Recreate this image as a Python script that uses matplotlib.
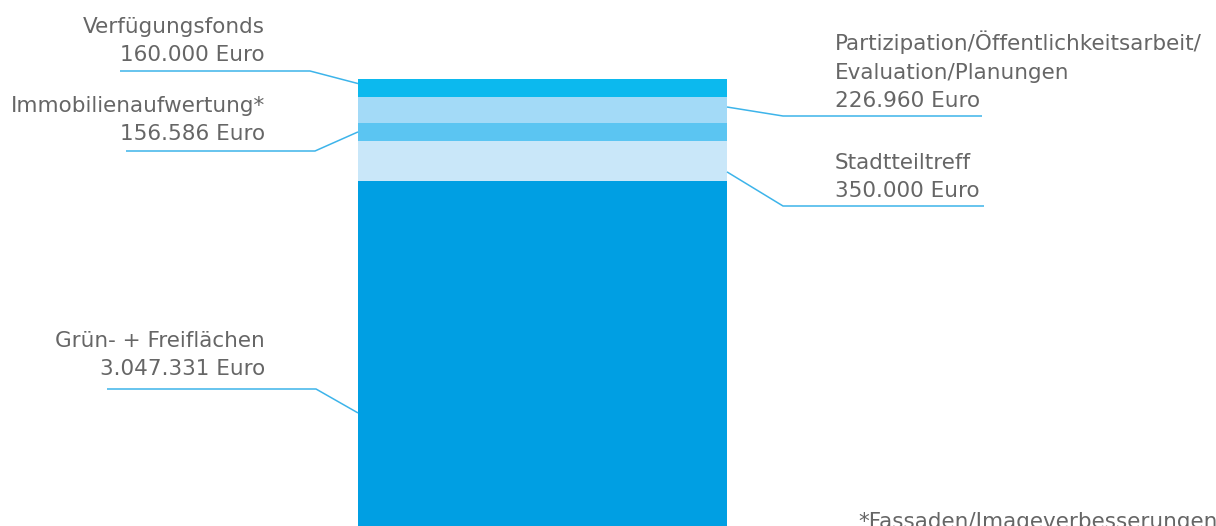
import matplotlib
matplotlib.use("Agg")
import matplotlib.pyplot as plt

# Daten (Euro)
labels = ["Grün- + Freiflächen", "Stadtteiltreff", "Immobilienaufwertung*",
          "Partizipation/Öffentlichkeitsarbeit/\nEvaluation/Planungen", "Verfügungsfonds"]
values = [3047331, 350000, 156586, 226960, 160000]
value_text = ["3.047.331 Euro", "350.000 Euro", "156.586 Euro", "226.960 Euro", "160.000 Euro"]
colors = ["#009fe3", "#c9e7f9", "#5bc5f2", "#a3daf7", "#0cb9ee"]
footnote = "*Fassaden/Imageverbesserungen"

W, H = 1216, 526
total = sum(values)
px = 8790  # Euro pro Pixel
y_top = total + 79 * px
y_bot = total - (H - 79) * px

fig = plt.figure(figsize=(W / 100, H / 100), dpi=100)
ax = fig.add_axes([0, 0, 1, 1])
ax.set_xlim(0, W)
ax.set_ylim(y_bot, y_top)
ax.axis("off")

def py(p):
    # Pixel von oben -> Datenwert
    return y_top - p * (y_top - y_bot) / H

# Gestapelter Balken
bottoms = []
b = 0
for v, c in zip(values, colors):
    ax.bar(542.5, v, width=369, bottom=b, color=c, linewidth=0)
    bottoms.append(b)
    b += v

txt_color = "#666666"
line_color = "#3db4ea"
fs = 15.5
font = "DejaVu Sans"

# Beschriftungen: (index, seite, text-x, baseline der letzten Zeile, linie-y, linie-x-ende, knick-x, anteil im segment)
annots = [
    (4, "left", 265, 61, 71, 120, 310, 0.75),
    (2, "left", 265, 140, 151, 126, 315, 0.5),
    (0, "left", 265, 375, 389, 107, 316, 0.33),
    (3, "right", 835, 107, 116, 982, 783, 0.62),
    (1, "right", 835, 197, 206, 984, 783, 0.22),
]
for i, side, tx, base, ly, lx, kx, frac in annots:
    text = labels[i] + "\n" + value_text[i]
    ha = "right" if side == "left" else "left"
    ax.text(tx, py(base), text, ha=ha, va="baseline", color=txt_color,
            fontsize=fs, family=font, linespacing=1.53, multialignment=ha)
    bar_x = 358 if side == "left" else 727
    yb = bottoms[i] + frac * values[i]
    ax.plot([lx, kx, bar_x], [py(ly), py(ly), yb], color=line_color, lw=1.1,
            solid_capstyle="butt")

ax.text(858, py(528), footnote, ha="left", va="baseline", color=txt_color,
        fontsize=fs, family=font)

fig.savefig("out.png", dpi=100)
